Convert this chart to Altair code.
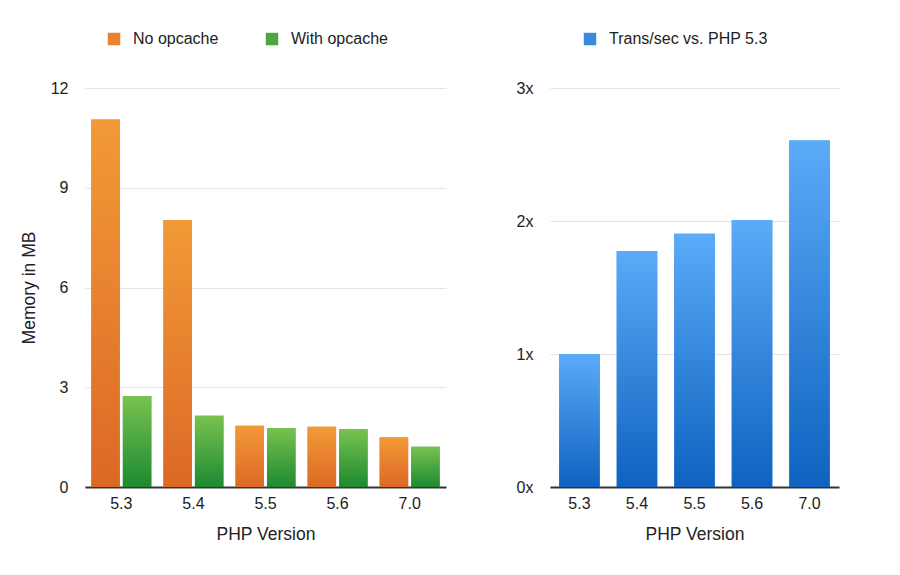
import altair as alt
import pandas as pd

# ---- data ----
versions = ["5.3", "5.4", "5.5", "5.6", "7.0"]
series_names = ["No opcache", "With opcache"]
no_opcache = [11.05, 8.03, 1.84, 1.81, 1.50]
with_opcache = [2.74, 2.14, 1.77, 1.74, 1.21]
ratio_name = "Trans/sec vs. PHP 5.3"
trans_ratio = [1.00, 1.775, 1.905, 2.005, 2.605]
mem_ticks = [0, 3, 6, 9, 12]
ratio_ticks = [0, 1, 2, 3]

mem_df = pd.DataFrame({
    "version": versions * 2,
    "series": [series_names[0]] * len(versions) + [series_names[1]] * len(versions),
    "memory": no_opcache + with_opcache,
})
ratio_df = pd.DataFrame({
    "version": versions,
    "series": [ratio_name] * len(versions),
    "ratio": trans_ratio,
})

FONT = "Liberation Sans"
TXT = "#222222"


def grad(top, bottom):
    return {
        "gradient": "linear", "x1": 0, "y1": 0, "x2": 0, "y2": 1,
        "stops": [{"offset": 0, "color": top}, {"offset": 1, "color": bottom}],
    }


g_orange = grad("#f29a37", "#dc6826")
g_green = grad("#78c24f", "#1d8a31")
g_blue = grad("#5aabf8", "#0f62bf")

x_axis = alt.Axis(title="PHP Version", labelAngle=0, ticks=False, grid=False,
                  domainColor="#333333", domainWidth=2, labelPadding=8, titlePadding=14)

# ---- left chart ----
lx = alt.X("version:N", sort=versions,
           scale=alt.Scale(paddingInner=0.167, paddingOuter=0.0875), axis=x_axis)
lxo = alt.XOffset("series:N", sort=series_names, scale=alt.Scale(paddingInner=0.095))
ly = alt.Y("memory:Q", scale=alt.Scale(domain=[0, 12], nice=False),
           axis=alt.Axis(values=mem_ticks, title="Memory in MB", domain=False, ticks=False,
                         gridColor="#e4e4e4", labelPadding=17, titlePadding=12))

left_base = alt.Chart(mem_df).mark_bar().encode(
    x=lx, xOffset=lxo, y=ly,
    color=alt.Color("series:N", sort=series_names,
                    scale=alt.Scale(domain=series_names, range=["#e8822e", "#4aa83e"]),
                    legend=alt.Legend(title=None, orient="none", direction="horizontal",
                                      legendX=21, legendY=-57, columnPadding=45)),
)
left_top = alt.Chart(mem_df).mark_bar().encode(
    x=lx, xOffset=lxo, y=ly,
    fill=alt.condition(alt.datum.series == series_names[0], alt.value(g_orange), alt.value(g_green)),
)
left = alt.layer(left_base, left_top).properties(width=361, height=399)

# ---- right chart ----
rx = alt.X("version:N", sort=versions,
           scale=alt.Scale(paddingInner=0.295, paddingOuter=0.16), axis=x_axis)
ry = alt.Y("ratio:Q", scale=alt.Scale(domain=[0, 3], nice=False),
           axis=alt.Axis(values=ratio_ticks, title=None, domain=False, ticks=False,
                         gridColor="#e4e4e4", labelPadding=17,
                         labelExpr="datum.value + 'x'"))
right_base = alt.Chart(ratio_df).mark_bar().encode(
    x=rx, y=ry,
    color=alt.Color("series:N",
                    scale=alt.Scale(domain=[ratio_name], range=["#3a8ae0"]),
                    legend=alt.Legend(title=None, orient="none", direction="horizontal",
                                      legendX=32, legendY=-57)),
)
right_top = alt.Chart(ratio_df).mark_bar().encode(x=rx, y=ry, fill=alt.value(g_blue))
right = alt.layer(right_base, right_top).properties(width=289, height=399)

chart = alt.hconcat(left, right, spacing=70).resolve_scale(color="independent").properties(
    padding={"top": 23, "left": 12, "right": 5, "bottom": 5}
).configure_view(stroke=None).configure_axis(
    labelFont=FONT, titleFont=FONT, labelFontSize=16, titleFontSize=17.5,
    labelColor=TXT, titleColor=TXT, titleFontWeight="normal",
).configure_legend(
    labelFont=FONT, labelFontSize=16, labelColor=TXT, symbolType="square",
    symbolSize=156, symbolStrokeWidth=0, labelOffset=11, padding=0,
)

chart.save("out.html", embed_options={"renderer": "svg", "actions": False})
